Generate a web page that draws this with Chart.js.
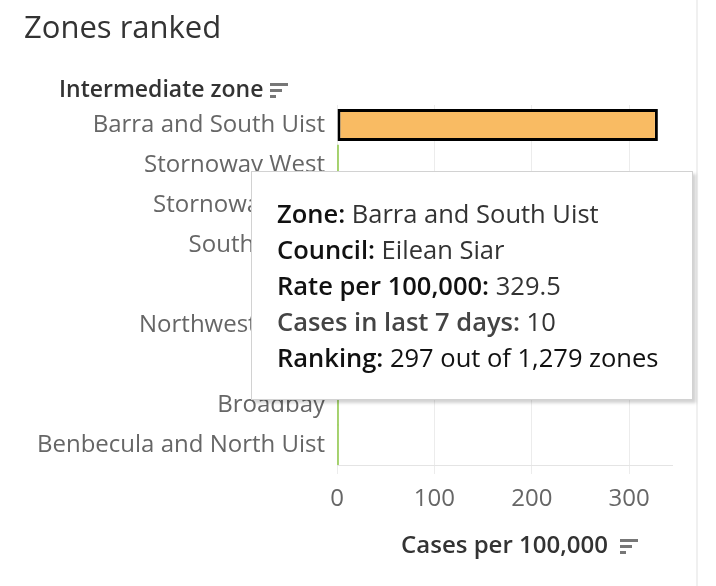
<!DOCTYPE html>
<html>
<head>
<meta charset="utf-8">
<script src="https://cdn.jsdelivr.net/npm/chart.js@4.4.1/dist/chart.umd.min.js"></script>
<style>
  html, body { margin: 0; padding: 0; background: #fff; }
  #wrap { position: relative; width: 716px; height: 586px; overflow: hidden; font-family: "Open Sans", sans-serif; }
  #c { position: absolute; left: 0; top: 0; }
  #title { position: absolute; left: 24px; top: 5px; font-size: 31px; line-height: 42px; color: #333; white-space: nowrap; }
  #yhead { position: absolute; left: 59px; top: 72px; font-size: 23px; line-height: 32px; font-weight: 600; color: #333; white-space: nowrap; }
  .sort { display: inline-block; vertical-align: middle; width: 20px; height: 17px; position: relative; margin-left: 7px; }
  .sort i { position: absolute; left: 0; height: 3px; background: #777; }
  #xsort { position: absolute; left: 620px; top: 538px; margin: 0; }
  #tip { position: absolute; left: 251px; top: 171px; width: 442px; height: 229px; background: #fff;
         border: 1px solid #d2d2d2; box-shadow: 3px 3px 3px rgba(0,0,0,0.18); box-sizing: border-box;
         padding: 23px 0 0 25px; font-size: 25.5px; color: #333; }
  #tip div { height: 36px; line-height: 36px; white-space: nowrap; }
  #tip b { font-weight: 600; color: #111; }
  #rline { position: absolute; left: 696px; top: 0; width: 2px; height: 586px; background: #f0f0f0; }
</style>
</head>
<body>
<div id="wrap">
  <canvas id="c" width="716" height="586"></canvas>
  <div id="rline"></div>
  <div id="title">Zones ranked</div>
  <div id="yhead">Intermediate zone<span class="sort"><i style="top:1px;width:18px"></i><i style="top:7px;width:12px"></i><i style="top:13px;width:6px"></i></span></div>
  <span class="sort" id="xsort"><i style="top:1px;width:18px"></i><i style="top:7px;width:12px"></i><i style="top:13px;width:6px"></i></span>
  <div id="tip">
    <div><b>Zone:</b> Barra and South Uist</div>
    <div><b>Council:</b> Eilean Siar</div>
    <div><b>Rate per 100,000:</b> 329.5</div>
    <div><b style="color:#444">Cases in last 7 days:</b> 10</div>
    <div><b>Ranking:</b> <span style="color:#111">297 out of 1,279 zones</span></div>
  </div>
</div>
<script>
const zones = ["Barra and South Uist", "Stornoway West", "Stornoway East", "South Lochs", "Point",
               "Northwest Lewis", "Harris", "Broadbay", "Benbecula and North Uist"];
const rates = [329.5, 0, 0, 0, 0, 0, 0, 0, 0];
const highlighted = "Barra and South Uist";
const xTicks = [0, 100, 200, 300];

const hiData = rates.map((v, i) => zones[i] === highlighted ? v : null);
const otherData = rates.map((v, i) => zones[i] === highlighted ? null : v);
const FONT = '"Open Sans", sans-serif';

new Chart(document.getElementById('c'), {
  type: 'bar',
  data: {
    labels: zones,
    datasets: [
      { data: hiData, backgroundColor: '#f9bb63', borderColor: '#000', borderWidth: 3,
        borderSkipped: false, barPercentage: 0.8, categoryPercentage: 1, grouped: false },
      { data: otherData, backgroundColor: '#96cb55', borderWidth: 0, minBarLength: 1.5,
        barPercentage: 1, categoryPercentage: 1, grouped: false }
    ]
  },
  options: {
    indexAxis: 'y',
    responsive: false,
    animation: false,
    events: [],
    layout: { padding: { top: 105, right: 44, bottom: 0, left: 0 } },
    plugins: { legend: { display: false }, tooltip: { enabled: false } },
    scales: {
      y: {
        afterFit: s => { s.width = 337; },
        grid: { display: false },
        border: { display: false },
        ticks: { color: '#666', font: { family: FONT, size: 24 }, padding: 4 }
      },
      x: {
        min: 0, max: 344,
        afterFit: s => { s.height = 121; },
        afterBuildTicks: s => { s.ticks = xTicks.map(v => ({ value: v })); },
        grid: { color: '#ececec', lineWidth: 1, tickLength: 9 },
        border: { color: '#e4e4e4' },
        ticks: { color: '#666', font: { family: FONT, size: 24 }, padding: 11, includeBounds: false },
        title: { display: true, text: 'Cases per 100,000', color: '#333',
                 font: { family: FONT, size: 24, weight: '600' }, padding: { top: 20, bottom: 25 } }
      }
    }
  }
});
</script>
</body>
</html>
